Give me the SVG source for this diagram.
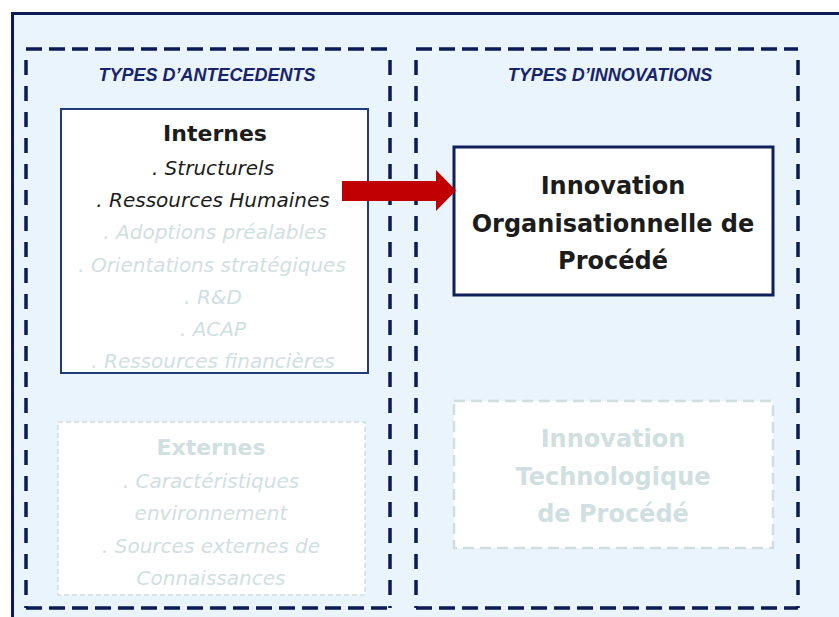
<svg xmlns="http://www.w3.org/2000/svg" width="839" height="617" viewBox="0 0 839 617">
<style>
.title{font-family:"Liberation Sans",Arial,sans-serif;font-size:18px;font-weight:bold;font-style:italic;fill:#17246b;text-anchor:middle}
.head{font-family:"DejaVu Sans",sans-serif;font-size:22px;font-weight:bold;text-anchor:middle}
.item{font-family:"DejaVu Sans",sans-serif;font-size:20px;font-style:italic;text-anchor:middle}
.inno{font-family:"DejaVu Sans",sans-serif;font-size:24px;font-weight:bold;text-anchor:middle}
.dark{fill:#1c1c1c}
.faded{fill:#d0e0e1}
.hdash{stroke:#0c1a56;stroke-width:3.5;stroke-dasharray:16 7;fill:none}
.vdash{stroke:#0c1a56;stroke-width:3.5;stroke-dasharray:15 11;fill:none}
</style>
<rect x="0" y="0" width="839" height="617" fill="#ffffff"/>
<rect id="frame" x="12.5" y="13.5" width="900" height="700" fill="#eaf4fd" stroke="#0c1a56" stroke-width="3"/>

<g id="antecedents">
<line class="hdash" x1="26" y1="49" x2="390" y2="49"/>
<line class="hdash" x1="26" y1="608" x2="390" y2="608"/>
<line class="vdash" x1="26" y1="60" x2="26" y2="608"/>
<line class="vdash" x1="390" y1="60" x2="390" y2="608"/>
<text class="title" x="207" y="81">TYPES D’ANTECEDENTS</text>
</g>

<g id="innovations">
<line class="hdash" x1="416" y1="49" x2="798" y2="49"/>
<line class="hdash" x1="416" y1="608" x2="798" y2="608"/>
<line class="vdash" x1="416" y1="60" x2="416" y2="608"/>
<line class="vdash" x1="798" y1="60" x2="798" y2="608"/>
<text class="title" x="610" y="81">TYPES D’INNOVATIONS</text>
</g>

<g id="internes">
<rect x="61" y="109" width="307" height="264" fill="#ffffff" stroke="#223a78" stroke-width="2"/>
<text class="head dark" x="215" y="141">Internes</text>
<text class="item dark" x="213" y="175">. Structurels</text>
<text class="item dark" x="213" y="207">. Ressources Humaines</text>
<text class="item faded" x="215" y="239">. Adoptions préalables</text>
<text class="item faded" x="212" y="272">. Orientations stratégiques</text>
<text class="item faded" x="213" y="304">. R&amp;D</text>
<text class="item faded" x="213" y="336">. ACAP</text>
<text class="item faded" x="213" y="368">. Ressources financières</text>
</g>

<g id="externes">
<rect x="58" y="422" width="307" height="173" fill="#ffffff" stroke="#d3dedf" stroke-width="1.5" stroke-dasharray="5 3"/>
<text class="head faded" x="211" y="455">Externes</text>
<text class="item faded" x="211" y="488">. Caractéristiques</text>
<text class="item faded" x="211" y="520">environnement</text>
<text class="item faded" x="211" y="553">. Sources externes de</text>
<text class="item faded" x="211" y="585">Connaissances</text>
</g>

<g id="innovation-organisationnelle">
<rect x="454" y="147" width="319" height="148" fill="#ffffff" stroke="#0f1f5a" stroke-width="3"/>
<text class="inno dark" x="613" y="194">Innovation</text>
<text class="inno dark" x="613" y="232">Organisationnelle de</text>
<text class="inno dark" x="613" y="269">Procédé</text>
</g>

<g id="innovation-technologique">
<rect x="454" y="401" width="319" height="147" fill="#ffffff" stroke="#d0dedd" stroke-width="2.5" stroke-dasharray="11 6"/>
<text class="inno faded" x="613" y="447">Innovation</text>
<text class="inno faded" x="613" y="485">Technologique</text>
<text class="inno faded" x="613" y="522">de Procédé</text>
</g>

<g id="connectors">
<path d="M342,181 L436,181 L436,170 L456,190.5 L436,211 L436,201 L342,201 Z" fill="#c00000"/>
</g>
</svg>
